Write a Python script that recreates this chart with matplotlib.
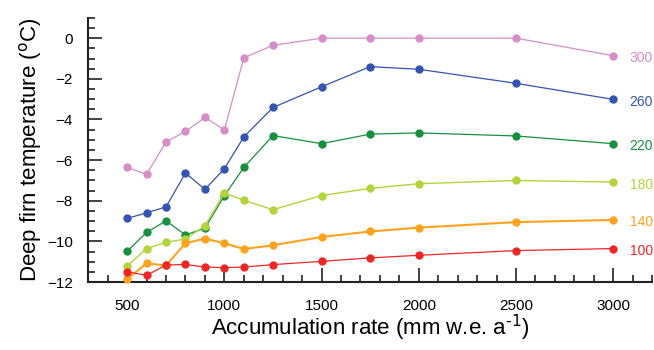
import matplotlib
matplotlib.use("Agg")
import matplotlib.pyplot as plt
from matplotlib.ticker import MultipleLocator

plt.rcParams["font.family"] = ["Liberation Sans", "DejaVu Sans"]

accum = [500, 600, 700, 800, 900, 1000, 1100, 1250, 1500, 1750, 2000, 2500, 3000]
labels = ["300", "260", "220", "180", "140", "100"]
t300 = [-6.36, -6.70, -5.10, -4.59, -3.90, -4.51, -0.97, -0.35, 0.0, 0.0, 0.0, 0.0, -0.86]
t260 = [-8.87, -8.59, -8.30, -6.63, -7.44, -6.42, -4.86, -3.41, -2.39, -1.40, -1.53, -2.22, -3.01]
t220 = [-10.49, -9.55, -8.99, -9.68, -9.35, -7.75, -6.36, -4.79, -5.19, -4.72, -4.66, -4.81, -5.19]
t180 = [-11.21, -10.35, -10.04, -9.88, -9.23, -7.62, -7.97, -8.44, -7.74, -7.39, -7.16, -7.00, -7.08]
t140 = [-11.85, -11.08, -11.18, -10.09, -9.86, -10.09, -10.37, -10.19, -9.78, -9.51, -9.32, -9.05, -8.94]
t100 = [-11.49, -11.67, -11.16, -11.13, -11.26, -11.29, -11.26, -11.14, -10.98, -10.81, -10.68, -10.45, -10.35]
series = [t300, t260, t220, t180, t140, t100]
colors = ["#d68ec8", "#3553b0", "#17903d", "#b3d43a", "#ffa21e", "#f02626"]
widths = [0.9, 0.9, 0.9, 1.0, 1.5, 0.9]

fig = plt.figure(figsize=(6.54, 3.5), dpi=100)
ax = fig.add_axes([0.135, 0.194, 0.862, 0.755])

for y, c, lw, lab in zip(series, colors, widths, labels):
    ax.plot(accum, y, color=c, lw=lw, marker="o", ms=5, mec=c, mfc=c, clip_on=False, zorder=3)
    ax.text(3085, y[-1] - 0.12, lab, color=c, fontsize=10, ha="left", va="center")

ax.set_xlim(300, 3200)
ax.set_ylim(-12, 1)
ax.xaxis.set_major_locator(MultipleLocator(500))
ax.xaxis.set_minor_locator(MultipleLocator(100))
ax.yaxis.set_major_locator(MultipleLocator(2))
ax.yaxis.set_minor_locator(MultipleLocator(0.5))
ax.tick_params(which="both", direction="in", width=1.2, color="#222222", labelsize=11)
ax.tick_params(which="major", length=10, pad=12)
ax.tick_params(which="minor", length=5)
ax.tick_params(axis="y", pad=11)
ax.set_yticks(range(-12, 1, 2))
for s in ["top", "right"]:
    ax.spines[s].set_visible(False)
for s in ["left", "bottom"]:
    ax.spines[s].set_linewidth(1.5)
    ax.spines[s].set_color("#222222")

ax.set_xlabel("Accumulation rate (mm w.e. a$^{\\text{-}1}$)", fontsize=16, labelpad=0)
ax.set_ylabel("Deep firn temperature ($^{\\rm o}$C)", fontsize=16, labelpad=2)

fig.savefig("out.png", dpi=100)
